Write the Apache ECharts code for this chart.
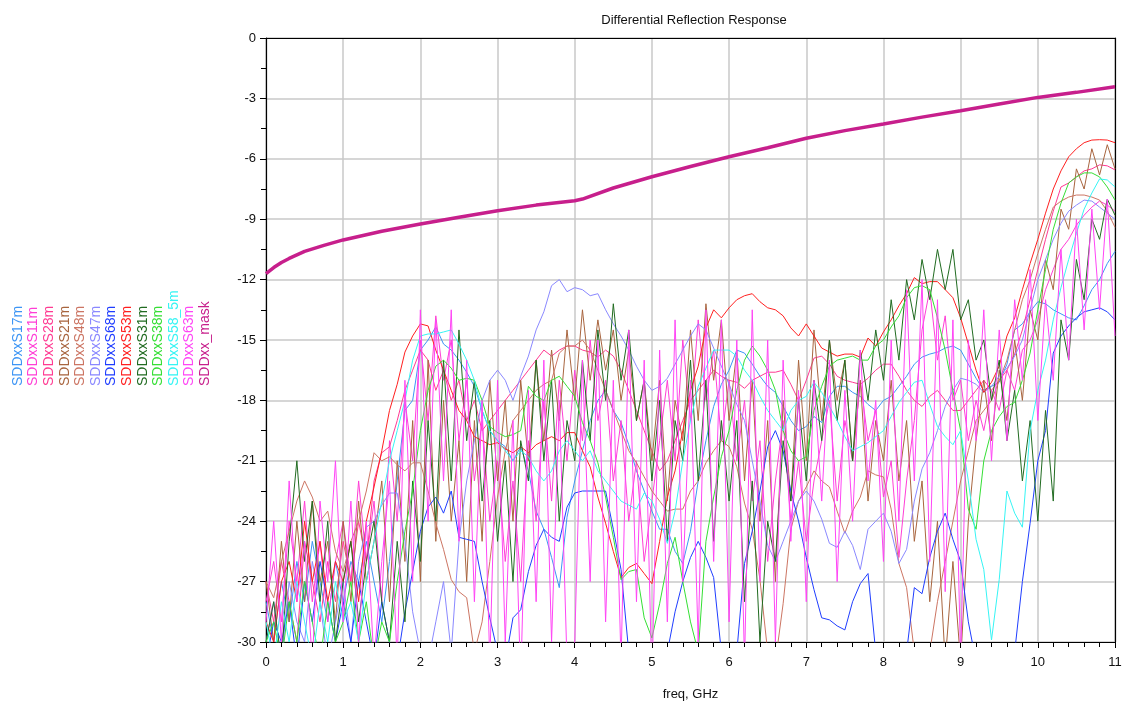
<!DOCTYPE html>
<html>
<head>
<meta charset="utf-8">
<title>Differential Reflection Response</title>
<script src="https://cdn.jsdelivr.net/npm/echarts@6/dist/echarts.min.js"></script>
<style>
  html, body { margin: 0; padding: 0; background: #fff; }
  #chart { width: 1125px; height: 708px; }
</style>
</head>
<body>
<div id="chart"></div>
<script>
// sweep points, 0 .. 11 GHz in 0.1 GHz steps (111 points)
let freq = [];
for (let i = 0; i <= 110; i++) freq.push(Math.round(i) / 10);

// dB values, one row per GHz
let s17m = [
  -28, -30, -27, -29, -26, -28, -25, -27, -29, -26,
  -28, -26, -27, -25, -27, -29, -26, -22, -18.5, -18,
  -15.5, -15, -14.35, -15.2, -15.5, -16, -16.6, -17.3, -18.5, -19.5,
  -20, -20.3, -21, -20.3, -21.5, -23.5, -24.4, -25.8, -27.3, -23.8,
  -22, -20.5, -19, -18, -17.5, -18.5, -19.1, -20.2, -21.5, -22.5,
  -23.5, -24.4, -24.4, -25.5, -26.1, -24.5, -22, -20, -18.3, -17.2,
  -16.5, -15.5, -15.65, -16.2, -16.8, -17.3, -17.6, -18.3, -19, -19.5,
  -19.3, -18.8, -19.1, -17.8, -17.3, -17.3, -17.6, -17.8, -18.2, -18.5,
  -18, -17.8, -17.3, -16.8, -16.2, -15.85, -15.7, -15.6, -15.4, -15.3,
  -15.5, -16.2, -16.9, -17.5, -17.3, -17.1, -16.2, -14.5, -14.2, -13.6,
  -13.1, -13.2, -13.5, -13.7, -13.9, -14, -13.3, -12.5, -12, -11.2,
  -10.6
];
let s11m = [
  -28, -26, -29, -24, -27, -23, -28, -25, -29, -26,
  -24, -27, -22, -26, -23, -28, -20, -24, -18, -21,
  -15, -19, -13.8, -17, -15, -20, -17, -22, -19, -24,
  -21, -26, -22, -27, -20, -24, -18, -23, -17, -21,
  -16.5, -20, -15, -19, -17, -22, -19, -24, -21, -26,
  -23, -20, -17, -21, -15, -19, -14, -18, -15.5, -20,
  -17, -21, -18, -23, -20, -26, -22, -19, -24, -21,
  -25, -22, -20, -18, -23, -19, -21, -17, -20, -18.5,
  -22.8, -21, -25.8, -22, -19, -14.5, -12.5, -16, -13.8, -18,
  -17, -20, -18, -19.5, -17.5, -18.5, -16.5, -17.5, -15.5, -15,
  -14, -12.5, -11.5, -10.5, -10, -9.3, -8.8, -8.4, -8.1, -8.3,
  -8.6
];
let s28m = [
  -27, -29, -26, -28, -30, -25, -27, -29, -26, -28,
  -25, -27, -24, -26, -22, -20.6, -20.3, -19, -17.5, -16.5,
  -15.5, -16, -17.5, -16.5, -18, -17, -19, -18, -19.5, -19,
  -18.5, -18, -17.5, -17, -16.5, -16, -15.5, -15.8, -15.5, -15.3,
  -15.3, -15.5, -15.6, -15.85, -15.5, -15.8, -16.5, -17.5, -18.5, -19.5,
  -20.5, -21.5, -21, -20, -19, -18, -17.5, -17, -16.5, -16.8,
  -17, -17.1, -17.4, -17, -16.8, -16.6, -16.6, -16.5, -17.2, -18,
  -17, -15.9, -15.8, -16.2, -16.8, -17, -17.1, -17.2, -16.9, -16.5,
  -16.2, -16.2, -16.8, -17.5, -18, -18.3, -17.8, -17.5, -18, -18.5,
  -18.5, -18, -17.5, -17, -17.5, -17, -16.5, -15.7, -14.5, -13,
  -11.5, -10, -8.6, -7.4, -7.2, -6.9, -6.6, -6.5, -6.3, -6.35,
  -6.55
];
let s21m = [
  -27, -30, -25, -29, -24, -28, -23, -27, -25, -29,
  -24, -28, -23, -27, -25, -22, -28, -21, -26, -19,
  -27, -16, -25, -18, -24, -20, -27, -19, -25, -17,
  -22, -18, -24, -17, -21, -16, -20, -15.5, -19, -14.5,
  -18, -13.5, -17, -14, -16.5, -14.5, -18, -15.5, -19, -17,
  -21, -17, -23, -18, -20, -14.5, -19, -13.2, -17, -14,
  -19, -15.5, -22, -17, -24, -19, -27, -18, -23, -16,
  -21, -14.5, -19, -15, -18, -16, -21, -17, -23, -19,
  -21, -17, -22, -19, -25, -22, -28, -24, -31, -26,
  -31, -24, -20, -17, -20, -16.5, -19, -15, -18, -13.5,
  -15, -11, -12.5, -8.5, -9.5, -6.5, -7.5, -5.5, -6.8, -5.3,
  -6.5
];
let s48m = [
  -27, -27.8, -26, -24.5, -23, -22, -22.8, -24, -23.5, -25.5,
  -26.5, -25, -24, -22.5, -20.6, -21, -20.8, -21.2, -21.5, -21.1,
  -21.1, -22.5, -24.1, -25.4, -26.9, -27.5, -27.8, -30.5, -29, -26,
  -22.8, -20.5, -19, -18.5, -18, -17.5, -17.2, -17, -15.65, -15.3,
  -15.3, -15, -15.5, -16.5, -17.5, -18.5, -19.5, -20.5, -21.1, -21.8,
  -22.5, -23, -23.5, -23.4, -23.4, -22.5, -22, -21.1, -20.5, -20,
  -20.3, -21.3, -23.1, -24.4, -26.9, -30.5, -31, -28.1, -24.4, -23,
  -22.3, -21.5, -22, -22.3, -23.5, -24.6, -23.5, -22.8, -21.5, -21.7,
  -21.8, -23.4, -26.1, -27.3, -30.5, -31, -30.5, -28, -26, -24,
  -22, -20.5, -19, -18.5, -18, -17, -16, -14.5, -13, -12,
  -10.7, -9.5, -8.4, -8.1, -7.9, -7.8, -7.8, -7.9, -8.05, -8.6,
  -9.4
];
let s47m = [
  -30, -28, -31, -27, -29, -30, -26, -28, -31, -29,
  -27, -30, -26, -24.3, -24, -23.2, -22.6, -22.6, -25, -28.5,
  -30.5, -31, -29, -27, -30.5, -25, -22, -20, -18, -17,
  -16.5, -17, -18, -16.8, -15.8, -14.5, -13.6, -12.3, -12, -12.6,
  -12.4, -12.5, -12.8, -12.7, -13.5, -14.2, -14.8, -15.5, -16.3, -17,
  -17.5, -17.3, -16.9, -16.2, -15.5, -14.8, -14.2, -14.5, -15.4, -16.3,
  -17.2, -18.2, -19, -21, -23, -25.2, -26, -25, -24, -23,
  -22.5, -23, -23.9, -25.1, -25.3, -24.5, -25.2, -26.4, -24.4, -24,
  -23.6, -24.5, -26.1, -25.4, -23, -21.4, -20.6, -19.5, -18.3, -17.5,
  -16.9, -17, -17.2, -17.6, -17.3, -16.8, -16.4, -15.8, -15, -13.5,
  -12, -11, -10, -9.2, -8.6, -8.3, -8.05, -8.1, -8.4, -8.7,
  -9
];
let s68m = [
  -31, -29, -30, -28, -31, -27, -29, -26, -28, -30,
  -28, -30, -27, -29, -31, -28, -30, -31, -28.5, -26.5,
  -24.5, -23.3, -22.8, -23.6, -22.5, -24.8, -24.9, -25, -27, -28.8,
  -30.5, -31, -28.8, -28.4, -26.5, -25.2, -24.4, -24.8, -25, -23.3,
  -22.6, -22.5, -22.5, -22.5, -22.5, -24.4, -26.4, -30.5, -32, -32,
  -32, -31, -30.5, -28.5, -27, -25.8, -25, -25.8, -26.8, -30.5,
  -32, -30.5, -26.1, -24.5, -22.5, -20.3, -19.5, -20.5, -22.5, -24,
  -25.8, -27.4, -28.8, -28.9, -29.2, -29.4, -28, -27.1, -26.6, -30.5,
  -32, -32, -32, -30.5, -27.3, -27.6, -25.8, -24.5, -23.6, -24.9,
  -26, -29, -31, -32, -32, -32, -32, -30.5, -27, -24.1,
  -21, -19.5, -15.65, -14.8, -14.3, -13.9, -13.6, -13.5, -13.4, -13.6,
  -14
];
let s53m = [
  -29, -30, -27, -26, -28, -24, -27, -25, -28, -26,
  -27, -25, -28, -24, -22.3, -20.5, -18.5, -17.2, -15.6, -14.8,
  -14.2, -14.3, -15.5, -16.5, -17.5, -18.5, -19, -19.8, -20, -20.2,
  -20.1, -20.4, -20.6, -20.3, -20.6, -20.2, -20, -19.8, -20, -19.6,
  -19.6, -20.5, -21.3, -22.8, -24.1, -25.5, -26.8, -26.3, -26.1, -26.6,
  -27.1, -25, -22.8, -21.5, -19.5, -17.5, -16.3, -14.4, -13.5, -13.9,
  -13.4, -13, -12.8, -12.7, -13.1, -13.4, -13.5, -13.8, -14.4, -14.8,
  -14.2, -14.8, -15.4, -15.6, -15.8, -15.7, -15.7, -15.85, -14.9, -15.3,
  -14.6, -14, -13.3, -12.7, -11.9, -12.2, -12.1, -12.1, -12.5, -12.9,
  -13.9, -15.2, -16.5, -17.6, -17.1, -16.3, -14.8, -13.9, -12.5, -11.2,
  -10, -8.7, -7.5, -6.6, -5.9, -5.5, -5.2, -5.07, -5.05, -5.07,
  -5.2
];
let s31m = [
  -30, -28, -31, -25, -21, -26, -23, -28, -24, -30,
  -27, -25, -29, -26, -24, -28, -30, -25, -29, -22,
  -26, -19, -24, -16, -22, -14.5, -20, -17, -23, -19,
  -25, -21, -27, -20, -22, -16, -21, -17, -24, -19,
  -21, -16, -20, -14.5, -18, -13.2, -17, -14.5, -19, -17,
  -22, -18, -25, -19, -21, -16, -22, -17, -25, -19,
  -23, -19, -28, -22, -30, -24, -26, -20, -23, -18,
  -22, -17, -20, -15, -19, -16, -21, -15.5, -18, -14.5,
  -17, -13, -16, -12, -14, -11, -13, -10.5, -12.5, -10.5,
  -14, -13, -16, -15, -18, -16, -20, -17.5, -22, -19,
  -24, -18.5, -23, -14, -16, -11, -13, -9, -10, -8,
  -8.8
];
let s38m = [
  -30, -29, -31, -28, -30, -27, -29, -31, -28, -30,
  -29, -27, -30, -28, -31, -29, -30, -27, -24.5, -22.5,
  -19.5, -17.5, -16.3, -16, -16.4, -17, -16.9, -17, -18, -19.3,
  -19.6, -19.8, -19.7, -19.5, -17.3, -17.8, -18, -17, -16.8, -17.3,
  -17.8, -19.1, -20, -21.1, -22.8, -24.8, -26.9, -26.5, -26.4, -28.8,
  -29.8, -28.1, -26.1, -24.8, -27, -29, -30.5, -25, -22.8, -20.8,
  -19.5, -17.5, -16, -15.3, -15.8, -16.5, -17.5, -19.5, -20.5, -21,
  -20.8, -18.5, -17.3, -16.3, -16, -15.9, -15.8, -16, -16, -15.3,
  -15, -14.35, -13.8, -12.9, -12.4, -12.3, -12.5, -13.9, -15.5, -17.5,
  -19.5, -23.4, -24.4, -21, -19.5, -18.8, -18.3, -18.1, -17, -15.65,
  -13.5, -11.5, -9.5, -8.2, -7.2, -6.9, -6.7, -6.7, -6.9, -7.4,
  -8.05
];
let s58_5m = [
  -29, -31, -28, -30, -27, -29, -31, -28, -30, -27,
  -29, -28, -30, -27, -25, -23, -21, -19.5, -18, -16,
  -14.8, -14.7, -14.7, -14.6, -14.5, -15.2, -16, -17, -18.5, -19.5,
  -20, -20.5, -21, -20.5, -20.8, -21.5, -22, -21.5, -20.5, -20,
  -20.5, -21, -20.5, -21.5, -22, -22.5, -23, -23.2, -23.4, -22.6,
  -23, -23.9, -25.1, -23.5, -21, -19, -17.3, -16.4, -15.5, -15.5,
  -15.5, -15.8, -16.5, -17, -17.8, -18.5, -19, -19.5, -18.5, -18,
  -17.8, -17.1, -17.6, -18.3, -19, -19.8, -20.5, -20.3, -20.1, -19.8,
  -19.5, -18.8, -18.1, -17.6, -17.1, -17, -18.2, -19.3, -19.8, -20.2,
  -19.5, -22, -24.9, -26.4, -29.9, -26.9, -22.5, -23.6, -24.3, -19.5,
  -17.5, -16, -14, -12.4, -11, -9.7, -8.5, -7.7, -7, -7.05,
  -7.4
];
let s63m = [
  -29, -24, -30, -22, -28, -25, -31, -23, -27, -21,
  -29, -23, -30, -24, -31, -26, -22, -31, -17, -27,
  -13.5, -24, -14, -22, -13.5, -25, -16, -28, -18, -31,
  -17, -30, -19, -32, -17.5, -28, -16, -30, -18, -31,
  -30, -16, -27, -15, -29, -17, -31, -14.5, -28, -16,
  -32, -15.5, -29, -14, -27, -17, -30, -13.5, -26, -14,
  -29, -15, -31, -13.5, -27, -15, -30, -16, -25, -17.5,
  -28, -17, -23, -16, -27, -17.5, -24, -15.5, -22, -18,
  -26, -15, -24, -12.5, -22, -12, -26, -13, -27.5, -14,
  -31, -15, -20, -13.5, -21, -14.5, -20, -13, -17, -11.5,
  -19, -13, -17, -10.5, -16, -9, -14.5, -8.5, -13.5, -8,
  -14.8
];

// mask limit line
let maskFreq = [0, 0.1, 0.2, 0.3, 0.5, 0.75, 1, 1.5, 2, 2.5, 3, 3.5, 4, 4.1, 4.5, 5, 5.5, 6, 6.5, 7, 7.5, 8, 8.5, 9, 9.5, 10, 10.5, 11];
let maskVal = [-11.7, -11.4, -11.15, -10.95, -10.6, -10.3, -10.03, -9.6, -9.24, -8.9, -8.58, -8.3, -8.08, -8.0, -7.45, -6.89, -6.38, -5.9, -5.45, -4.98, -4.6, -4.27, -3.93, -3.61, -3.28, -2.95, -2.7, -2.42];

let names = ['SDDxxS17m', 'SDDxxS11m', 'SDDxxS28m', 'SDDxxS21m', 'SDDxxS48m', 'SDDxxS47m',
             'SDDxxS68m', 'SDDxxS53m', 'SDDxxS31m', 'SDDxxS38m', 'SDDxxS58_5m', 'SDDxxS63m', 'SDDxx_mask'];
let colors = ['#3d95f5', '#ff3ed6', '#ff3a92', '#a8653f', '#cc7563', '#8a88ff',
              '#1f3dff', '#ff1f1f', '#216b21', '#35df35', '#36f4f4', '#ff45f5', '#c71f8c'];
let traces = [s17m, s11m, s28m, s21m, s48m, s47m, s68m, s53m, s31m, s38m, s58_5m, s63m];

let myChart = echarts.init(document.getElementById('chart'));

let series = traces.map((vals, k) => ({
  name: names[k],
  type: 'line',
  symbol: 'none',
  data: vals.map((v, i) => [freq[i], v]),
  lineStyle: { width: 1, color: colors[k] },
  itemStyle: { color: colors[k] }
}));
series.push({
  name: names[12],
  type: 'line',
  symbol: 'none',
  data: maskVal.map((v, i) => [maskFreq[i], v]),
  lineStyle: { width: 3.5, color: colors[12] },
  itemStyle: { color: colors[12] },
  z: 5
});

// vertical legend labels on the left
let legendText = names.map((n, k) => ({
  type: 'text',
  x: 18 + k * 15.6,
  y: 386,
  rotation: Math.PI / 2,
  style: {
    text: n,
    fill: colors[k],
    font: '14px "Liberation Sans", Arial, sans-serif',
    textAlign: 'left',
    textVerticalAlign: 'middle'
  }
}));

// plain black frame lines for the top and right sides
let frameAxis = {
  type: 'value',
  axisLine: { show: true, onZero: false, lineStyle: { color: '#000', width: 1.2 } },
  axisTick: { show: false },
  axisLabel: { show: false },
  splitLine: { show: false }
};

myChart.setOption({
  animation: false,
  backgroundColor: '#fff',
  title: {
    text: 'Differential Reflection Response',
    left: 689,
    top: 9,
    textAlign: 'center',
    textStyle: { fontFamily: 'Liberation Sans', fontSize: 13, fontWeight: 'normal', color: '#111' }
  },
  grid: {
    left: 266, right: 10, top: 38, bottom: 66
  },
  xAxis: [{
    type: 'value',
    min: 0, max: 11, interval: 1,
    name: 'freq, GHz',
    nameLocation: 'middle',
    nameGap: 46,
    nameTextStyle: { fontFamily: 'Liberation Sans', fontSize: 13, color: '#111' },
    axisLine: { onZero: false, lineStyle: { color: '#000', width: 1.2 } },
    axisTick: { length: 6, lineStyle: { color: '#000' } },
    minorTick: { show: true, splitNumber: 5, length: 5, lineStyle: { color: '#000' } },
    axisLabel: { fontFamily: 'Liberation Sans', fontSize: 13, color: '#111', margin: 14 },
    splitLine: { lineStyle: { color: '#c8c8c8', width: 1.5 } }
  }, Object.assign({ position: 'top', min: 0, max: 11 }, frameAxis)],
  yAxis: [{
    type: 'value',
    min: -30, max: 0, interval: 3,
    axisLine: { show: true, onZero: false, lineStyle: { color: '#000', width: 1.2 } },
    axisTick: { show: true, length: 6, lineStyle: { color: '#000' } },
    minorTick: { show: true, splitNumber: 2, length: 5, lineStyle: { color: '#000' } },
    axisLabel: { fontFamily: 'Liberation Sans', fontSize: 13, color: '#111', margin: 10 },
    splitLine: { lineStyle: { color: '#c8c8c8', width: 1.5 } }
  }, Object.assign({ position: 'right', min: -30, max: 0 }, frameAxis)],
  graphic: legendText,
  series: series
});
</script>
</body>
</html>
